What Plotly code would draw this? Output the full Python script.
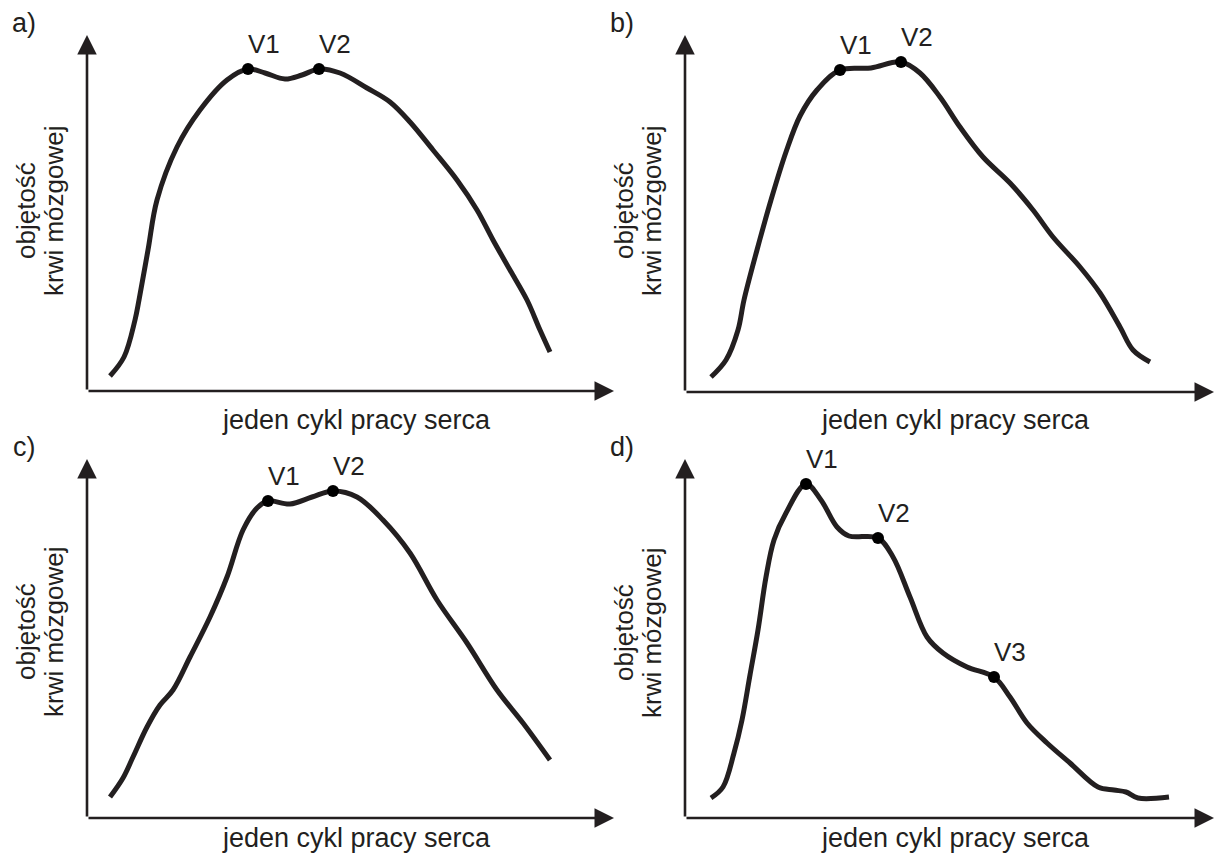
import plotly.graph_objects as go

# ---- data (time within one heart cycle, cerebral blood volume; arbitrary units) ----
a_t = [23, 37, 48, 52, 61, 70, 90, 113, 140, 161, 178, 198, 215, 232, 253, 280, 303, 323, 346, 370, 390, 406, 423, 440, 453, 463]
a_v = [15, 34, 71, 91, 141, 191, 244, 281, 311, 322, 318, 312, 316, 322, 318, 303, 289, 269, 241, 211, 181, 151, 121, 91, 61, 39]
a_peaks = {"V1": 9, "V2": 13}

b_t = [26, 41, 53, 59, 72, 86, 101, 115, 132, 155, 186, 216, 235, 255, 275, 298, 325, 348, 368, 395, 415, 435, 448, 465]
b_v = [15, 32, 62, 92, 142, 192, 240, 276, 302, 322, 324, 330, 319, 295, 265, 235, 209, 182, 155, 125, 99, 65, 42, 30]
b_peaks = {"V1": 9, "V2": 11}

c_t = [23, 36, 46, 60, 73, 86, 103, 123, 140, 156, 170, 181, 203, 225, 246, 270, 296, 323, 350, 380, 410, 436, 463]
c_v = [21, 40, 61, 91, 113, 128, 161, 201, 241, 288, 310, 317, 314, 321, 327, 321, 298, 265, 218, 175, 128, 95, 58]
c_peaks = {"V1": 11, "V2": 14}

d_t = [26, 38, 49, 57, 65, 73, 81, 89, 101, 121, 136, 152, 164, 193, 208, 225, 242, 258, 282, 309, 325, 342, 362, 385, 413, 429, 441, 453, 484]
d_v = [20, 31, 65, 98, 143, 188, 241, 278, 305, 334, 318, 291, 282, 280, 261, 221, 181, 165, 151, 141, 121, 95, 75, 55, 31, 28, 26, 20, 21]
d_peaks = {"V1": 9, "V2": 13, "V3": 19}

panel_letters = ["a)", "b)", "c)", "d)"]
x_title = "jeden cykl pracy serca"
y_title_1 = "objętość"
y_title_2 = "krwi mózgowej"

# ---- layout (pixels) ----
W, H = 1220, 856
INK = "#231f20"
FONT = "Liberation Sans, Arial, sans-serif"
# origin x, origin y, x-arrow tip, y-arrow tip, x-title offset below axis, y-title centre
panels = [
    dict(ox=87, oy=391, xe=614, yt=35, tt=29, yc=211, t=a_t, v=a_v, pk=a_peaks),
    dict(ox=685, oy=392, xe=1214, yt=35, tt=28, yc=211, t=b_t, v=b_v, pk=b_peaks),
    dict(ox=87, oy=818, xe=614, yt=459, tt=20, yc=632, t=c_t, v=c_v, pk=c_peaks),
    dict(ox=685, oy=818, xe=1214, yt=459, tt=20, yc=633, t=d_t, v=d_v, pk=d_peaks),
]

fig = go.Figure()
annotations = []
layout_axes = {}

for i, p in enumerate(panels):
    n = "" if i == 0 else str(i + 1)
    xa, ya = "x" + n, "y" + n
    xr = p["xe"] - p["ox"]
    yr = p["oy"] - p["yt"]
    layout_axes["xaxis" + n] = dict(domain=[p["ox"] / W, p["xe"] / W], range=[0, xr], visible=False,
                                    fixedrange=True, anchor=ya)
    layout_axes["yaxis" + n] = dict(domain=[1 - p["oy"] / H, 1 - p["yt"] / H], range=[0, yr], visible=False,
                                    fixedrange=True, anchor=xa)

    fig.add_trace(go.Scatter(x=p["t"], y=p["v"], mode="lines", xaxis=xa, yaxis=ya,
                             line=dict(color=INK, width=5, shape="spline", smoothing=1.0),
                             hoverinfo="skip", showlegend=False, cliponaxis=False))
    idx = list(p["pk"].values())
    fig.add_trace(go.Scatter(x=[p["t"][k] for k in idx], y=[p["v"][k] for k in idx], mode="markers",
                             xaxis=xa, yaxis=ya, marker=dict(color="black", size=12),
                             hoverinfo="skip", showlegend=False, cliponaxis=False))
    for name, k in p["pk"].items():
        annotations.append(dict(x=p["t"][k], y=p["v"][k], xref=xa, yref=ya, text=name, showarrow=False,
                                xshift=16, yshift=25, font=dict(family=FONT, size=26, color=INK)))

    # axis arrows
    for (hx, hy) in [(xr, 0), (0, yr)]:
        annotations.append(dict(x=hx, y=hy, ax=0, ay=0, xref=xa, yref=ya, axref=xa, ayref=ya, text="",
                                showarrow=True, arrowhead=2, arrowsize=1.5, arrowwidth=2.6, arrowcolor=INK,
                                standoff=0, startstandoff=0))

    # x-axis title
    annotations.append(dict(x=((p["ox"] + p["xe"]) / 2 + 6) / W, y=1 - (p["oy"] + p["tt"]) / H,
                            xref="paper", yref="paper", text=x_title, showarrow=False,
                            xanchor="center", yanchor="middle",
                            font=dict(family=FONT, size=27, color=INK)))
    # y-axis title (two rotated lines)
    yc = 1 - p["yc"] / H
    annotations.append(dict(x=(p["ox"] - 61) / W, y=yc, xref="paper", yref="paper", text=y_title_1,
                            showarrow=False, textangle=-90, xanchor="center", yanchor="middle",
                            font=dict(family=FONT, size=26, color=INK)))
    annotations.append(dict(x=(p["ox"] - 33) / W, y=yc, xref="paper", yref="paper", text=y_title_2,
                            showarrow=False, textangle=-90, xanchor="center", yanchor="middle",
                            font=dict(family=FONT, size=26, color=INK)))
    # panel letter
    annotations.append(dict(x=(p["ox"] - 63) / W, y=1 - (p["yt"] - 12) / H, xref="paper", yref="paper",
                            text=panel_letters[i], showarrow=False, xanchor="center", yanchor="middle",
                            font=dict(family=FONT, size=27, color=INK)))

fig.update_layout(width=W, height=H, autosize=False, margin=dict(l=0, r=0, t=0, b=0),
                  paper_bgcolor="white", plot_bgcolor="rgba(0,0,0,0)",
                  annotations=annotations, showlegend=False, **layout_axes)

fig.write_html("out.html", config={"displayModeBar": False})
